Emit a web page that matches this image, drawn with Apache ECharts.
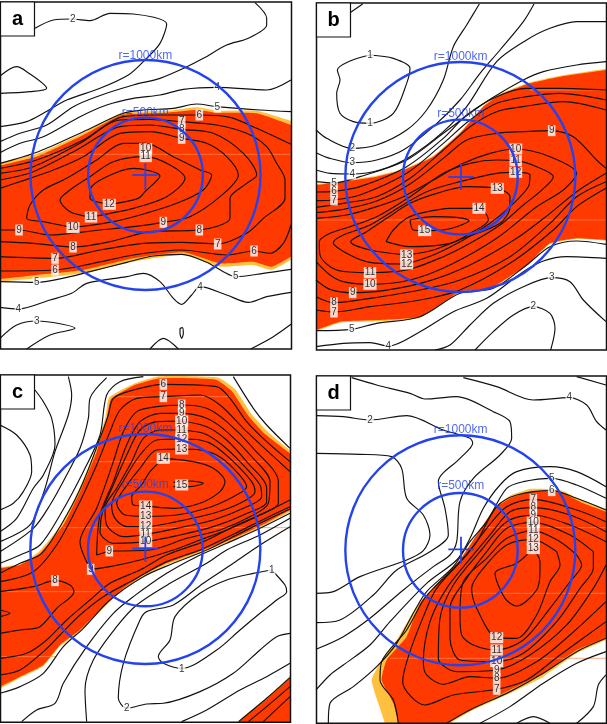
<!DOCTYPE html>
<html><head><meta charset="utf-8">
<script src="https://cdn.jsdelivr.net/npm/echarts@6/dist/echarts.min.js"></script>
<style>html,body{margin:0;padding:0;background:#fff}#c{width:607px;height:724px}</style>
</head><body><div id="c"></div>
<script>
// Map units are arbitrary panel units.
const aGold=[[-40,498],[0,488],[115,460],[250,398],[365,338],[500,333],[590,322],[650,332],[770,332],[873,362],[920,375],[920,760],[873,780],[815,810],[760,795],[660,800],[550,764],[400,785],[250,820],[110,835],[0,845],[-40,848]];
const aRed=[[-40,507],[0,497],[115,468],[250,405],[365,345],[500,338],[590,330],[650,338],[770,340],[873,375],[920,392],[920,745],[873,770],[815,800],[760,785],[660,790],[550,757],[400,775],[250,810],[110,825],[0,837],[-40,840]];
const aLines=[
[[105,85],[160,60],[215,57],[270,62],[330,40],[400,42],[500,72],[480,130],[430,185],[385,225],[300,265],[200,300],[130,340],[80,365],[0,380]],
[[765,8],[800,55],[800,75],[745,115],[680,135],[610,175],[555,203],[480,235],[400,255],[290,290],[220,320],[140,375],[60,400],[0,425]],
[[873,240],[800,270],[650,262],[550,268],[480,285],[400,295],[320,315],[240,350],[130,410],[60,430],[0,458]],
[[873,335],[780,330],[650,320],[590,312],[520,325],[430,330],[370,340],[250,395],[115,455],[0,490]],
[[0,228],[50,200],[80,215],[140,265],[90,275],[0,280]],
[[0,505],[110,480],[250,420],[370,350],[480,345],[598,345],[690,352],[770,385],[873,433]],
[[0,520],[100,500],[240,430],[360,360],[450,358],[545,365],[650,375],[740,400],[800,440],[830,490],[855,540],[855,595],[790,655],[740,700],[653,732],[545,727],[430,730],[300,750],[165,775],[0,770]],
[[0,540],[100,515],[230,450],[360,380],[450,375],[545,388],[640,400],[730,460],[770,525],[740,550],[690,595],[690,655],[598,690],[450,695],[330,725],[219,741],[100,730],[0,725]],
[[0,565],[60,545],[160,510],[250,470],[360,400],[450,395],[545,415],[620,430],[680,470],[715,525],[660,590],[570,650],[490,667],[400,680],[300,690],[150,705],[57,690],[0,690]],
[[219,683],[130,665],[80,655],[90,615],[130,570],[200,535],[290,480],[370,430],[437,430],[520,470],[600,510],[635,525],[610,570],[530,610],[420,645],[340,665],[219,683]],
[[273,651],[210,635],[180,600],[210,570],[270,530],[340,485],[437,470],[510,495],[555,535],[500,590],[400,625],[330,640],[273,651]],
[[328,613],[270,595],[272,565],[320,530],[400,505],[480,528],[435,575],[415,595],[328,613]],
[[0,845],[110,847],[210,830],[270,815],[380,787],[460,768],[545,763],[620,787],[670,815],[707,830],[790,820],[873,808]],
[[0,813],[165,810],[280,790],[400,765],[545,750],[680,765],[762,753],[810,760],[850,730],[873,675]],
[[0,922],[55,927],[150,900],[215,880],[260,850],[380,830],[430,820],[480,845],[520,895],[545,913],[575,885],[600,860],[680,885],[745,907],[800,890],[873,877]],
[[0,1015],[50,975],[110,963],[225,985],[150,1005],[80,1047]],
[[450,1047],[490,1015],[535,1047]],
[[752,1047],[820,1010],[873,973]],
[[540,985],[547,983],[550,1000],[545,1015],[540,1000],[540,985]]
];
const aLabels=[[218,57,'2'],[652,262,'4'],[652,321,'5'],[598,345,'6'],[545,365,'7'],[545,388,'8'],[545,415,'9'],[437,446,'10'],[437,470,'11'],[328,613,'12'],[273,651,'11'],[219,683,'10'],[57,690,'9'],[490,667,'9'],[219,741,'8'],[598,690,'8'],[165,775,'7'],[653,732,'7'],[165,810,'6'],[762,753,'6'],[110,847,'5'],[707,830,'5'],[55,927,'4'],[600,863,'4'],[110,963,'3']];
const aFaint=[[[115,463],[873,463]]];

const bGold=[[-20,556],[18,552],[100,542],[200,527],[280,507],[370,467],[450,397],[520,317],[570,282],[660,247],[750,227],[888,206],[930,200],[930,725],[888,722],[800,716],[720,732],[650,797],[540,867],[450,878],[330,953],[200,964],[90,968],[18,994],[-20,1005]];
const bRed=[[-20,560],[18,555],[100,545],[200,530],[280,510],[370,470],[450,400],[520,320],[570,285],[660,250],[750,230],[888,210],[930,204],[930,722],[888,720],[800,715],[720,730],[650,795],[540,865],[450,875],[330,950],[200,960],[90,965],[18,990],[-20,1002]];
const bLines=[
[[120,38],[158,12]],
[[180,165],[250,175],[300,205],[290,250],[250,340],[180,370],[130,365],[90,340],[80,280],[90,240],[82,210],[115,185],[180,165]],
[[18,390],[50,415],[125,445],[200,435],[290,390],[350,330],[400,240],[430,140],[470,75],[508,12]],
[[18,458],[60,475],[127,488],[200,480],[280,450],[370,380],[450,300],[510,220],[570,150],[640,65],[672,12]],
[[18,510],[60,520],[127,522],[210,510],[300,470],[400,395],[470,320],[560,185],[650,120],[720,85],[800,65],[888,65]],
[[18,545],[72,549],[150,530],[290,480],[400,400],[480,340],[545,295],[640,240],[700,215],[800,195],[888,185]],
[[18,576],[72,574],[150,560],[290,500],[400,415],[470,345],[560,290],[650,265],[750,265],[888,270]],
[[18,602],[72,600],[150,585],[290,520],[400,430],[480,360],[560,310],[650,290],[750,280],[888,300]],
[[18,622],[100,610],[200,590],[300,535],[400,450],[480,380],[560,335],[640,320],[760,305],[888,330]],
[[18,638],[100,628],[200,603],[300,552],[400,475],[470,420],[560,400],[640,395],[725,392],[790,410],[860,480],[888,505]],
[[18,840],[60,868],[128,878],[220,872],[350,845],[480,795],[620,715],[720,640],[800,575],[888,520]],
[[18,890],[72,908],[180,895],[330,870],[450,840],[600,770],[720,670],[800,590],[888,545]],
[[18,930],[72,936],[180,920],[330,900],[450,870],[600,790],[730,690],[800,620],[888,565]],
[[18,785],[60,825],[100,845],[180,853],[300,840],[420,795],[560,715],[680,620],[760,570],[800,520],[720,470],[617,447],[540,460],[460,490],[370,540],[280,590],[200,620],[110,645],[18,655]],
[[180,818],[80,810],[30,765],[28,725],[60,700],[120,680],[200,650],[300,590],[400,520],[480,490],[560,480],[617,482],[680,500],[730,530],[690,575],[640,615],[570,675],[480,730],[400,770],[290,810],[180,818]],
[[290,792],[180,787],[120,765],[70,728],[100,705],[180,675],[270,620],[350,575],[450,545],[560,520],[617,517],[660,525],[655,560],[600,620],[540,670],[460,720],[370,765],[290,792]],
[[290,765],[180,750],[122,725],[170,695],[230,655],[300,610],[380,580],[470,560],[562,565],[600,590],[600,620],[570,670],[460,715],[370,750],[290,765]],
[[228,725],[300,740],[420,730],[480,700],[535,660],[520,630],[507,625],[420,625],[330,640],[290,655],[250,690],[228,725]],
[[300,660],[370,650],[440,652],[477,662],[440,680],[400,690],[344,692],[310,690],[300,660]],
[[888,733],[800,723],[720,740],[650,795],[550,865],[450,880],[330,950],[200,970],[125,988],[18,992]],
[[18,1040],[100,1030],[180,1028],[235,1038],[330,995],[430,935],[530,895],[640,815],[700,783],[770,770],[888,775]],
[[375,1050],[420,1035],[480,975],[550,910],[640,860],[725,833],[780,845],[820,900],[888,965]],
[[495,1050],[550,995],[610,945],[670,920],[720,940],[735,985],[722,1050]]
];
const bLabels=[[180,165,'1'],[180,370,'1'],[127,445,'2'],[127,488,'3'],[127,522,'4'],[72,549,'5'],[72,574,'6'],[72,600,'7'],[725,392,'9'],[617,447,'10'],[617,482,'11'],[617,517,'12'],[562,565,'13'],[507,625,'14'],[344,692,'15'],[290,765,'13'],[290,792,'12'],[180,818,'11'],[180,853,'10'],[128,878,'9'],[72,908,'8'],[72,936,'7'],[125,988,'5'],[235,1038,'4'],[725,833,'3'],[670,920,'2']];
const bFaint=[[[660,270],[888,270]],[[18,660],[888,660]]];

const cGold=[[327,68],[400,27],[480,4],[655,8],[705,42],[755,118],[805,172],[870,226],[920,262],[920,385],[870,410],[800,448],[700,495],[610,530],[500,569],[430,604],[370,644],[320,689],[240,769],[180,814],[130,874],[60,909],[0,941],[-40,960],[-40,590],[0,577],[60,567],[115,532],[185,447],[235,347],[285,227],[316,127]];
const cRed=[[333,72],[400,32],[480,10],[648,14],[695,48],[745,122],[795,177],[870,235],[920,275],[920,380],[870,405],[800,443],[700,490],[610,525],[500,565],[430,600],[370,640],[320,685],[240,765],[180,810],[130,870],[60,905],[0,935],[-40,955],[-40,593],[0,580],[60,570],[120,535],[190,450],[240,350],[290,230],[320,130]];
const cRed2=[[690,1070],[800,973],[870,910],[920,860],[920,1070]];
const cGold2=[[684,1070],[800,968],[870,903],[920,853],[920,1070]];
const cLines=[
[[105,45],[130,80],[155,130],[165,210],[130,300],[100,340],[50,430],[0,470]],
[[205,5],[215,60],[205,120],[165,230],[135,340],[90,450],[0,500]],
[[0,150],[50,180],[90,240],[95,290],[70,350],[40,385],[0,405]],
[[320,8],[270,70],[265,130],[240,220],[200,300],[150,390],[100,460],[0,530]],
[[430,5],[360,20],[320,60],[300,180],[250,290],[180,420],[120,510],[60,540],[0,565]],
[[700,5],[760,100],[800,150],[870,220]],
[[870,260],[800,200],[740,140],[690,70],[650,35],[490,28],[400,45],[340,70],[325,120],[300,190],[250,320],[200,420],[125,535],[60,565],[0,595]],
[[870,290],[740,170],[660,90],[600,60],[490,65],[410,70],[360,105],[330,170],[290,270],[230,400],[170,510],[100,590],[0,620]],
[[0,900],[60,885],[130,830],[180,780],[240,720],[310,665],[400,615],[500,560],[600,525],[700,478],[800,428],[870,395]],
[[0,850],[80,835],[140,795],[200,735],[270,675],[330,625],[420,585],[500,540],[610,500],[700,455],[800,410],[870,375]],
[[0,775],[60,765],[120,755],[170,700],[222,650],[210,630],[165,617],[100,635],[0,650]],
[[0,705],[30,715],[0,725]],
[[272,583],[330,575],[420,555],[520,525],[600,495],[680,465],[780,420],[835,385],[835,320],[760,220],[680,140],[620,100],[545,90],[470,95],[410,110],[370,170],[340,260],[290,400],[240,500],[272,583]],
[[328,528],[290,540],[300,420],[340,320],[380,210],[420,140],[480,115],[545,115],[620,130],[680,170],[760,250],[810,320],[805,385],[760,420],[660,465],[560,490],[450,525],[328,528]],
[[545,138],[470,140],[420,165],[380,240],[340,330],[310,400],[300,470],[340,505],[437,500],[540,480],[640,455],[730,420],[800,380],[800,340],[740,260],[680,195],[620,155],[545,138]],
[[545,165],[480,165],[430,190],[395,260],[350,340],[315,400],[320,450],[370,485],[437,478],[530,460],[640,435],[730,400],[785,365],[780,330],[720,260],[660,205],[610,175],[545,165]],
[[545,192],[470,195],[420,240],[375,310],[335,390],[345,430],[380,455],[437,455],[530,440],[640,415],[720,385],[765,350],[755,320],[700,260],[640,210],[600,195],[545,192]],
[[545,222],[470,225],[420,280],[385,325],[350,385],[375,420],[437,424],[530,420],[620,400],[700,365],[740,335],[700,280],[650,240],[600,225],[545,222]],
[[490,250],[450,290],[425,330],[395,365],[400,390],[437,393],[520,400],[600,385],[660,350],[675,320],[640,280],[580,260],[490,250]],
[[520,322],[570,318],[610,325],[570,335],[520,335]],
[[815,585],[855,630],[860,650],[830,675],[780,715],[720,765],[650,825],[545,880],[490,865],[475,845],[510,795],[525,725],[600,655],[680,615],[760,595],[815,585]],
[[870,775],[830,785],[780,825],[700,895],[600,950],[490,985],[440,987],[380,1000],[355,970],[370,865],[420,735],[440,710],[520,690],[610,625],[700,565],[780,510],[870,455]],
[[260,1040],[255,945],[280,855],[350,755],[410,690],[510,625],[620,565],[680,525],[780,480],[870,430]],
[[65,1040],[110,1005],[165,985],[190,925],[260,815],[340,715],[400,665],[500,595],[590,545],[680,505],[780,460],[870,415]],
[[0,955],[60,935],[130,895],[190,815],[250,760],[330,675],[430,605],[520,565],[620,525],[720,475],[800,435],[870,402]],
[[545,1040],[620,1005],[720,945],[800,905],[870,865]],
[[716,1040],[800,970],[870,908]],
[[745,1040],[800,995],[870,935]],
[[790,1040],[870,965]]
];
const cLabels=[[490,28,'6'],[490,65,'7'],[545,90,'8'],[545,115,'9'],[545,138,'10'],[545,165,'11'],[545,192,'12'],[545,222,'13'],[490,250,'14'],[545,330,'15'],[437,393,'14'],[437,424,'13'],[437,455,'12'],[437,478,'11'],[437,500,'10'],[328,528,'9'],[272,583,'9'],[165,617,'8'],[815,585,'1'],[545,882,'1'],[380,1000,'2']];
const cFaint=[[[335,65],[690,65]],[[285,260],[790,260]],[[190,458],[870,458]],[[0,650],[330,650]],[[0,845],[170,845]]];

const dGold=[[555,398],[600,362],[660,342],[750,345],[820,378],[888,402],[930,420],[930,775],[888,795],[800,835],[700,905],[600,955],[480,1010],[420,1045],[380,1080],[240,1080],[225,1045],[205,985],[185,915],[215,855],[260,795],[320,695],[370,637],[450,552],[520,448]];
const dRed=[[555,400],[600,370],[660,350],[750,352],[820,385],[888,410],[930,430],[930,770],[888,788],[800,825],[700,895],[600,945],[480,1005],[410,1045],[370,1080],[275,1080],[265,1045],[250,985],[215,915],[230,855],[290,785],[330,685],[370,640],[450,555],[520,450]];
const dLines=[
[[18,235],[150,238],[245,245],[275,280],[290,370],[340,420],[360,480],[340,527],[290,555],[150,605],[70,650],[18,655]],
[[18,122],[100,125],[180,135],[290,122],[400,165],[480,190],[488,205],[450,250],[385,320],[405,400],[415,480],[360,530],[260,585],[190,660],[90,735],[18,743]],
[[125,8],[200,30],[300,55],[345,72],[440,65],[550,110],[600,140],[605,190],[570,240],[490,310],[450,380],[440,500],[420,540],[370,575],[280,645],[180,730],[100,785],[18,823]],
[[460,8],[560,35],[670,75],[778,68],[830,90],[860,140],[888,165]],
[[800,5],[888,30]],
[[18,945],[60,900],[100,870],[180,810],[240,740],[350,625],[440,555],[480,490],[520,400],[570,330],[620,290],[720,275],[800,290],[888,335]],
[[55,1045],[60,985],[130,935],[200,875],[260,805],[315,705],[350,650],[430,575],[480,500],[530,440],[590,340],[640,320],[725,310],[800,330],[888,370]],
[[265,1045],[250,975],[210,915],[215,860],[290,765],[340,675],[370,640],[450,560],[500,500],[560,395],[620,360],[725,347],[800,370],[888,405]],
[[410,1045],[480,1005],[600,950],[700,895],[800,830],[888,790]],
[[510,1045],[600,995],[700,925],[800,865],[888,830]],
[[620,1045],[670,1025],[720,1045]],
[[800,1045],[850,995],[865,930],[888,900]],
[[888,440],[800,405],[670,373],[590,395],[530,460],[470,540],[380,640],[340,725],[295,845],[278,920],[345,990],[430,960],[560,943],[650,915],[750,840],[888,740]],
[[888,470],[780,420],[670,398],[600,410],[540,480],[490,540],[410,640],[360,740],[340,860],[350,900],[400,928],[480,905],[560,910],[680,860],[780,780],[888,680]],
[[888,500],[780,450],[670,420],[590,440],[510,530],[430,630],[390,730],[385,850],[440,890],[560,885],[660,840],[770,750],[850,640],[888,570]],
[[850,530],[780,480],[670,442],[590,460],[530,530],[470,610],[420,700],[420,790],[450,855],[560,860],[640,835],[740,740],[810,640],[850,580],[850,530]],
[[800,540],[750,500],[670,467],[590,490],[530,550],[460,620],[450,720],[455,780],[490,810],[560,825],[640,795],[720,700],[780,620],[815,570],[800,540]],
[[740,530],[670,494],[590,510],[520,580],[485,640],[500,700],[560,788],[620,790],[680,720],[720,620],[750,570],[740,530]],
[[670,521],[690,560],[690,585],[680,645],[620,693],[585,670],[555,595],[620,565],[670,521]]
];
const dLabels=[[180,135,'2'],[778,68,'4'],[725,310,'5'],[725,347,'6'],[670,373,'7'],[670,398,'8'],[670,420,'9'],[670,442,'10'],[670,467,'11'],[670,494,'12'],[670,521,'13'],[560,788,'12'],[560,825,'11'],[560,860,'10'],[560,885,'9'],[560,910,'8'],[560,943,'7']];
const dFaint=[[[520,458],[888,458]],[[350,655],[888,655]],[[240,850],[888,850]]];

const panelNames=['a','b','c','d'];
const circleCentres=[[436.5,525],[451,531],[436,522],[451,526]];
const radii=[345,172];
const crossH=[[[397,525],[475,525]],[[415,531],[492,531]],[[397,521],[475,521]],[[415,523],[492,523]]];
const crossV=[[[436,490],[436,570]],[[453,490],[453,570]],[[436,485],[436,560]],[[453,485],[453,565]]];
const ringText=[[[436,168,'r=1000km'],[436,338,'r=500km']],[[452,170,'r=1000km'],[452,340,'r=500km']],[[436,162,'r=1000km'],[436,330,'r=500km']],[[452,165,'r=1000km'],[452,333,'r=500km']]];

const RED='#ff3a00',GOLD='#ffc040',BLUE='#2443ee',INK='#111';
const layout=[
 {x:[0,873],y:[6,1047],box:[0,2,291,347]},
 {x:[18,888],y:[9,1050],box:[316,3,290,347]},
 {x:[0,870],y:[0,1042],box:[0,375,290,347.3]},
 {x:[18,888],y:[3,1045],box:[316,376,290,347.3]}
];
const fills=[[[aGold,GOLD],[aRed,RED]],[[bGold,GOLD],[bRed,RED]],[[cGold,GOLD],[cRed,RED],[cGold2,GOLD],[cRed2,RED]],[[dGold,GOLD],[dRed,RED]]];
const lineSets=[aLines,bLines,cLines,dLines];
const labelSets=[aLabels,bLabels,cLabels,dLabels];
const faintSets=[aFaint,bFaint,cFaint,dFaint];

const grid=[],xAxis=[],yAxis=[],series=[],graphic=[];
layout.forEach((L,i)=>{
  grid.push({left:L.box[0],top:L.box[1],width:L.box[2],height:L.box[3],show:false});
  xAxis.push({gridIndex:i,type:'value',min:L.x[0],max:L.x[1],show:false});
  yAxis.push({gridIndex:i,type:'value',min:L.y[0],max:L.y[1],inverse:true,show:false});
  const ax={xAxisIndex:i,yAxisIndex:i};
  fills[i].forEach(([pts,col],k)=>{
    series.push({type:'custom',...ax,silent:true,clip:true,z:1+k,data:pts,
      renderItem:(p,api)=>p.dataIndex>0?null:{type:'polygon',shape:{points:pts.map(q=>api.coord(q)),smooth:0.15},style:{fill:col}}});
  });
  faintSets[i].forEach(seg=>series.push({type:'line',...ax,silent:true,z:6,data:seg,symbol:'none',lineStyle:{color:'#ff8a55',width:0.7}}));
  lineSets[i].forEach(l=>series.push({type:'line',...ax,silent:true,clip:true,z:7,data:l,symbol:'none',smooth:0.3,lineStyle:{color:INK,width:1.15}}));
  series.push({type:'scatter',...ax,silent:true,z:8,symbolSize:1,itemStyle:{color:'transparent'},
    data:labelSets[i].map(d=>({value:[d[0],d[1]],name:d[2]})),
    label:{show:true,position:'inside',formatter:'{b}',color:'#000',fontFamily:'Liberation Sans',fontSize:10,backgroundColor:'#fff',padding:[1,1,0,1]}});
  series.push({type:'custom',...ax,silent:true,clip:true,z:9,
    data:radii.map(r=>[circleCentres[i][0],circleCentres[i][1],r]),
    renderItem:(p,api)=>{const c=api.coord([api.value(0),api.value(1)]);const s=api.size([api.value(2),api.value(2)]);
      return {type:'circle',shape:{cx:c[0],cy:c[1],r:s[0]},style:{fill:null,stroke:BLUE,lineWidth:2.4}};}});
  [crossH[i],crossV[i]].forEach(seg=>series.push({type:'line',...ax,silent:true,z:9,data:seg,symbol:'none',lineStyle:{color:BLUE,width:1.8}}));
  series.push({type:'scatter',...ax,silent:true,z:10,symbolSize:1,itemStyle:{color:'transparent'},
    data:ringText[i].map(d=>({value:[d[0],d[1]],name:d[2]})),
    label:{show:true,position:'inside',formatter:'{b}',color:'#2443ee',fontFamily:'Liberation Sans',fontSize:12}});
  const [bx,by,bw,bh]=L.box;
  graphic.push({type:'rect',z:100,shape:{x:bx+0.5,y:by,width:bw,height:bh},style:{fill:null,stroke:'#111',lineWidth:1.5}});
  graphic.push({type:'rect',z:101,shape:{x:bx+0.5,y:by,width:34,height:34},style:{fill:'#fff',stroke:'#111',lineWidth:1.2}});
  graphic.push({type:'text',z:102,style:{x:bx+17.5,y:by+17,text:panelNames[i],fill:'#000',font:'bold 20px "Liberation Sans"',textAlign:'center',textVerticalAlign:'middle'}});
});
const chart=echarts.init(document.getElementById('c'),null,{renderer:'canvas'});
chart.setOption({animation:false,backgroundColor:'#fff',grid,xAxis,yAxis,series,graphic});
</script></body></html>
